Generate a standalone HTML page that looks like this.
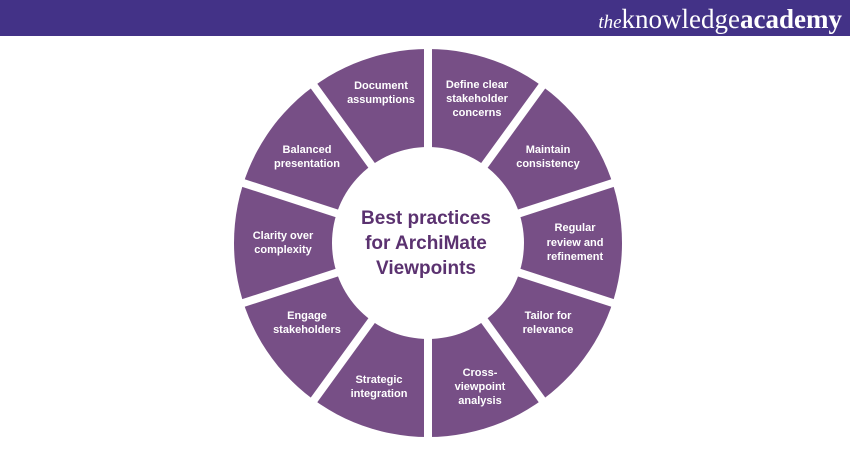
<!DOCTYPE html>
<html><head><meta charset="utf-8"><style>
html,body{margin:0;padding:0;background:#fff;width:850px;height:450px;overflow:hidden}
</style></head><body>
<svg width="850" height="450" viewBox="0 0 850 450" xmlns="http://www.w3.org/2000/svg" style="display:block">
<rect x="0" y="0" width="850" height="36" fill="#433287"/>
<text x="842" y="28" text-anchor="end" font-family="Liberation Serif, serif" font-size="27" fill="#fff"><tspan font-style="italic" font-size="19">the</tspan>knowledge<tspan font-weight="bold">academy</tspan></text>
<circle cx="428" cy="243" r="194" fill="#774f86"/>
<g stroke="#fff" stroke-width="8">
<line x1="428" y1="40" x2="428" y2="446" transform="rotate(0 428 243)"/>
<line x1="428" y1="40" x2="428" y2="446" transform="rotate(36 428 243)"/>
<line x1="428" y1="40" x2="428" y2="446" transform="rotate(72 428 243)"/>
<line x1="428" y1="40" x2="428" y2="446" transform="rotate(108 428 243)"/>
<line x1="428" y1="40" x2="428" y2="446" transform="rotate(144 428 243)"/>
</g>
<circle cx="428" cy="243" r="96" fill="#fff"/>
<g font-family="Liberation Sans, sans-serif" font-weight="bold" font-size="11" fill="#fff" text-anchor="middle">
<text x="381" y="89">Document</text><text x="381" y="103">assumptions</text>
<text x="477" y="88">Define clear</text><text x="477" y="102">stakeholder</text><text x="477" y="116">concerns</text>
<text x="548" y="153">Maintain</text><text x="548" y="167">consistency</text>
<text x="575" y="231">Regular</text><text x="575" y="246">review and</text><text x="575" y="260">refinement</text>
<text x="548" y="319">Tailor for</text><text x="548" y="333">relevance</text>
<text x="480" y="376">Cross-</text><text x="480" y="390">viewpoint</text><text x="480" y="404">analysis</text>
<text x="379" y="383">Strategic</text><text x="379" y="397">integration</text>
<text x="307" y="319">Engage</text><text x="307" y="333">stakeholders</text>
<text x="283" y="239">Clarity over</text><text x="283" y="253">complexity</text>
<text x="307" y="153">Balanced</text><text x="307" y="167">presentation</text>
</g>
<g font-family="Liberation Sans, sans-serif" font-weight="bold" font-size="19" fill="#5b3270" text-anchor="middle">
<text x="426" y="224">Best practices</text>
<text x="426" y="249">for ArchiMate</text>
<text x="426" y="274">Viewpoints</text>
</g>
</svg>
</body></html>
